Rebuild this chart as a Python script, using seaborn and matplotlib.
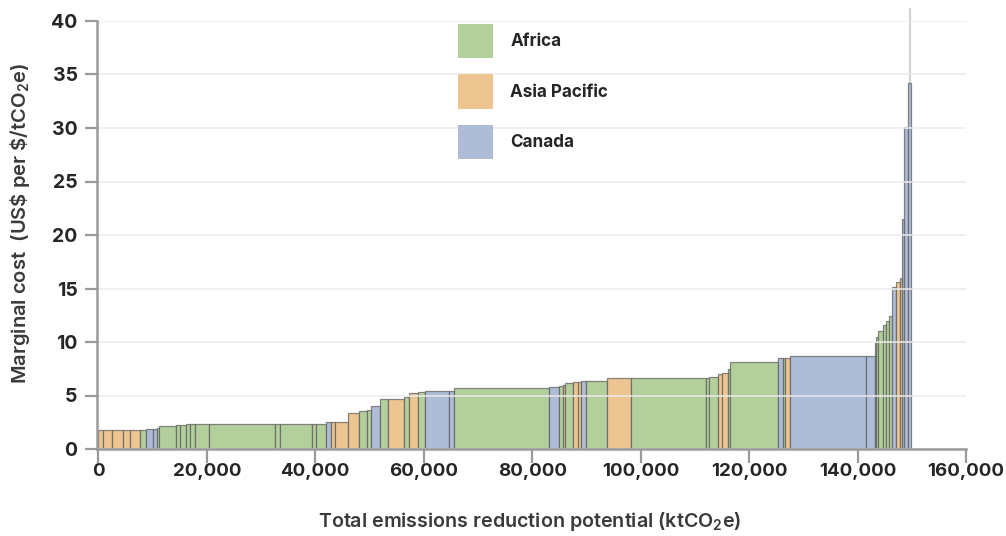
import numpy as np
import pandas as pd
import matplotlib
matplotlib.use("Agg")
import matplotlib.pyplot as plt
from matplotlib.patches import Patch
import seaborn as sns

# Abatement options, sorted by marginal cost
regions = [
    "Asia Pacific", "Asia Pacific", "Asia Pacific", "Asia Pacific", "Asia Pacific",
    "Africa", "Canada", "Canada", "Africa", "Africa",
    "Africa", "Africa", "Africa", "Africa", "Africa",
    "Africa", "Africa", "Africa", "Africa", "Africa",
    "Canada", "Asia Pacific", "Asia Pacific", "Asia Pacific", "Africa",
    "Africa", "Canada", "Africa", "Asia Pacific", "Africa",
    "Asia Pacific", "Africa", "Canada", "Canada", "Africa",
    "Canada", "Africa", "Asia Pacific", "Africa", "Asia Pacific",
    "Asia Pacific", "Canada", "Africa", "Asia Pacific", "Africa",
    "Africa", "Africa", "Asia Pacific", "Asia Pacific", "Africa",
    "Africa", "Canada", "Africa", "Asia Pacific", "Canada",
    "Canada", "Africa", "Africa", "Africa", "Africa",
    "Africa", "Africa", "Canada", "Asia Pacific", "Asia Pacific",
    "Canada", "Canada", "Canada",
]
potential_kt = [
    870, 1710, 1970, 1220, 1850,
    1100, 1360, 790, 310, 3190,
    740, 980, 740, 920, 2580,
    12160, 1050, 5900, 740, 1710,
    920, 740, 2470, 2030, 1530,
    740, 1660, 1350, 3020, 980,
    1600, 1290, 4420, 920, 17620,
    1730, 790, 420, 1360, 920,
    610, 920, 3870, 4420, 13820,
    610, 1600, 740, 1050, 480,
    8740, 920, 420, 980, 13900,
    1710, 280, 330, 810, 610,
    610, 440, 790, 790, 260,
    480, 740, 500,
]
cost_usd = [
    1.75, 1.75, 1.75, 1.75, 1.75,
    1.80, 1.84, 1.84, 1.95, 2.18,
    2.20, 2.22, 2.30, 2.30, 2.30,
    2.30, 2.30, 2.30, 2.30, 2.30,
    2.48, 2.55, 2.55, 3.40, 3.55,
    3.60, 4.00, 4.65, 4.67, 4.90,
    5.26, 5.33, 5.39, 5.39, 5.70,
    5.75, 5.92, 6.00, 6.14, 6.29,
    6.30, 6.36, 6.40, 6.67, 6.67,
    6.67, 6.70, 7.00, 7.07, 7.50,
    8.16, 8.47, 8.50, 8.53, 8.72,
    8.72, 9.90, 10.50, 11.06, 11.60,
    12.00, 12.46, 15.10, 15.60, 15.95,
    21.50, 30.05, 34.20,
]
# Highest-cost option, beyond the plotted cost range
outlier_position_kt = 149700
outlier_cost_usd = 41.1

legend_order = ["Africa", "Asia Pacific", "Canada"]
region_colors = ["#b3d09c", "#ecc590", "#aebcd8"]

df = pd.DataFrame({"region": regions, "potential": potential_kt, "cost": cost_usd})
df["start"] = df["potential"].cumsum() - df["potential"]

sns.set_theme(style="white")
plt.rcParams["font.family"] = ["Inter", "DejaVu Sans"]
plt.rcParams["mathtext.fontset"] = "custom"
plt.rcParams["mathtext.rm"] = "Inter:semibold"
plt.rcParams["mathtext.it"] = "Inter:semibold"
plt.rcParams["mathtext.bf"] = "Inter:bold"

palette = dict(zip(legend_order, sns.color_palette(region_colors)))

fig = plt.figure(figsize=(10.06, 5.36), dpi=100)
ax = fig.add_axes([97 / 1006, 1 - 449 / 536, 869 / 1006, 428 / 536])

ax.plot([outlier_position_kt, outlier_position_kt], [0, outlier_cost_usd],
        color="#d4d4d4", lw=1.6, zorder=0.5, clip_on=False)

ax.bar(df["start"], df["cost"], width=df["potential"], align="edge",
       color=[palette[r] for r in df["region"]],
       edgecolor=(0.35, 0.35, 0.35, 0.7), linewidth=0.9, zorder=1)

ax.set_xlim(-250, 160000)
ax.set_ylim(0, 40)
ax.set_xticks(np.arange(0, 160001, 20000))
ax.set_yticks(np.arange(0, 41, 5))
ax.xaxis.set_major_formatter(matplotlib.ticker.FuncFormatter(lambda v, p: f"{int(v):,}"))

ax.yaxis.grid(True, color="#ebebeb", linewidth=1.1)
ax.xaxis.grid(False)
ax.set_axisbelow(False)
for gl in ax.get_ygridlines():
    gl.set_zorder(2)

for side in ["top", "right"]:
    ax.spines[side].set_visible(False)
for side in ["left", "bottom"]:
    ax.spines[side].set_color("#9a9a9a")
    ax.spines[side].set_linewidth(1.8)
    ax.spines[side].set_zorder(3)

ax.tick_params(axis="y", which="major", left=True, length=9, width=1.6,
               color="#9a9a9a", labelsize=14, labelcolor="#262626", pad=5)
ax.tick_params(axis="x", which="major", bottom=True, length=10, width=1.6,
               color="#9a9a9a", labelsize=13.5, labelcolor="#262626", pad=0)
for lab in ax.get_xticklabels() + ax.get_yticklabels():
    lab.set_fontweight("bold")

ax.set_ylabel(r"Marginal cost  (US\$ per \$/tCO$_2$e)", fontsize=14.5,
              color="#3a3a3a", fontweight="semibold")
ax.set_xlabel(r"Total emissions reduction potential (ktCO$_2$e)", fontsize=14.2,
              color="#3a3a3a", fontweight="semibold")
ax.yaxis.set_label_coords(-0.075, 0.527)
ax.xaxis.set_label_coords(0.498, -0.143)

handles = [Patch(facecolor=palette[r], edgecolor="none") for r in legend_order]
leg = fig.legend(handles, legend_order, loc="upper left",
                 bbox_to_anchor=(458 / 1006, 1 - 24 / 536),
                 frameon=False, fontsize=12.3, handlelength=2.05, handleheight=2.7,
                 labelspacing=0.95, handletextpad=1.0, borderpad=0, borderaxespad=0)
for t in leg.get_texts():
    t.set_fontweight("bold")
    t.set_color("#262626")

fig.savefig("out.png", dpi=100)
